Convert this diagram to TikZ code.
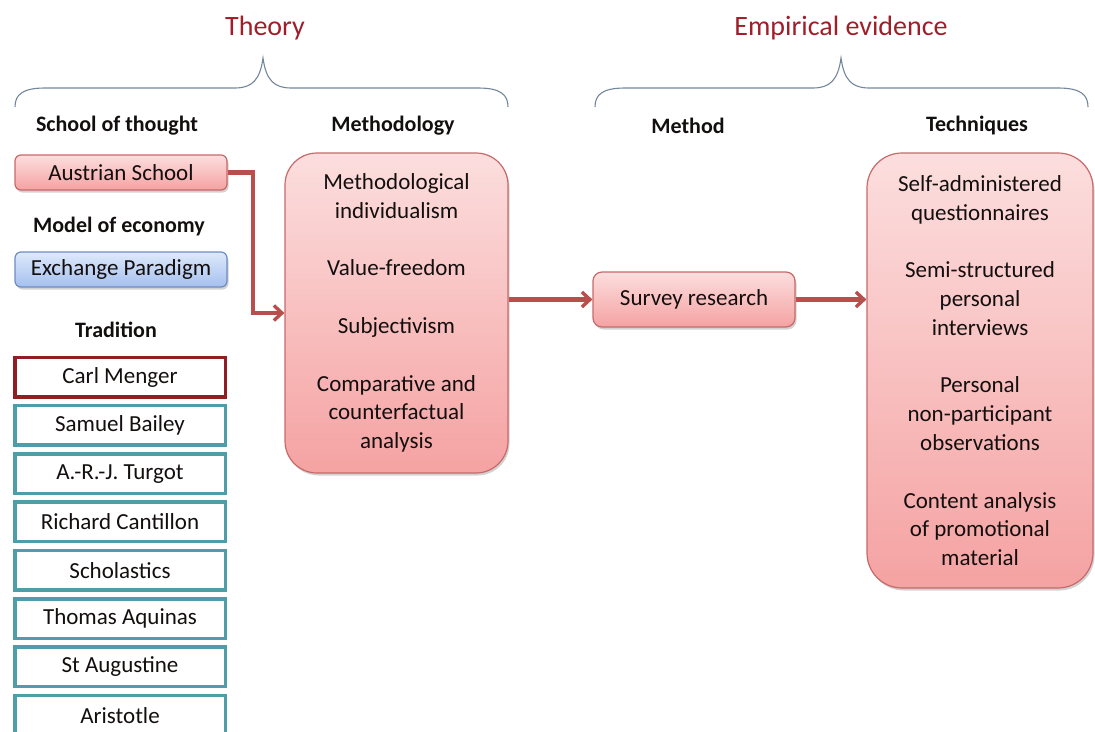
\documentclass[tikz,border=0pt]{standalone}
\usepackage{fontspec}
\setmainfont{Carlito}
\usetikzlibrary{arrows.meta,shadows}

\definecolor{titlered}{RGB}{160,30,42}
\definecolor{bracegray}{RGB}{115,135,155}
\definecolor{pinktop}{RGB}{252,222,222}
\definecolor{pinkbot}{RGB}{245,162,162}
\definecolor{pinkedge}{RGB}{200,105,105}
\definecolor{bluetop}{RGB}{222,233,251}
\definecolor{bluebot}{RGB}{165,192,238}
\definecolor{blueedge}{RGB}{110,140,192}
\definecolor{arrowred}{RGB}{185,78,76}
\definecolor{mengerred}{RGB}{145,30,36}
\definecolor{teal}{RGB}{78,158,170}
\definecolor{ink}{RGB}{20,15,15}

\newcommand{\bodyfont}{\fontsize{23}{28.8}\selectfont}
\newcommand{\headfont}{\fontsize{22}{26}\selectfont\bfseries}
\newcommand{\titlefont}{\fontsize{28}{32}\selectfont}

\begin{document}
\begin{tikzpicture}[x=1pt,y=-1pt,
  every node/.style={text=ink},
  title/.style={font=\titlefont, text=titlered},
  header/.style={font=\headfont},
  softshadow/.style={drop shadow={shadow xshift=1.5pt, shadow yshift=-2.5pt, opacity=0.25, fill=black!70}},
  pinkbox/.style={draw=pinkedge, line width=1.2pt, top color=pinktop, bottom color=pinkbot,
    softshadow, inner sep=0pt, align=center, font=\bodyfont},
  bluebox/.style={pinkbox, draw=blueedge, top color=bluetop, bottom color=bluebot},
  tradbox/.style={draw=teal, line width=3.5pt, fill=white, minimum width=210.5pt, minimum height=39.5pt,
    inner sep=0pt, font=\bodyfont},
  mengerbox/.style={tradbox, draw=mengerred},
  brace/.style={draw=bracegray, line width=1.1pt},
  conn/.style={draw=arrowred, line width=4.2pt, -{Straight Barb[length=8pt,width=15pt,line width=3.4pt]}}
]
\useasboundingbox (0,0) rectangle (1095,731);
\clip (0,0) rectangle (1095,731);

% section titles and braces
\node[title] (theory) at (265,28) {Theory};
\node[title] (empirical) at (841,28) {Empirical evidence};

\draw[brace] (15,107) .. controls (15,95) and (22,88) .. (45,88) -- (235,88)
  .. controls (252,88) and (260,80) .. (263,58)
  .. controls (266,80) and (274,88) .. (291,88) -- (478,88)
  .. controls (501,88) and (508,95) .. (508,107);
\draw[brace] (595,107) .. controls (595,95) and (602,88) .. (625,88) -- (813,88)
  .. controls (830,88) and (838,80) .. (841,58)
  .. controls (844,80) and (852,88) .. (869,88) -- (1058,88)
  .. controls (1081,88) and (1088,95) .. (1088,107);

% column headers
\node[header] (hschool) at (117,126) {School of thought};
\node[header] (hmethodology) at (393,126) {Methodology};
\node[header] (hmethod) at (688,126) {Method};
\node[header] (htech) at (977,126) {Techniques};

% school of thought and model of economy
\node[pinkbox, rounded corners=6pt, minimum width=212pt, minimum height=35pt] (aus) at (121,172.5) {Austrian School};
\node[header] (hmodel) at (119,227) {Model of economy};
\node[bluebox, rounded corners=6pt, minimum width=212pt, minimum height=35pt] (exch) at (121,269.5) {Exchange Paradigm};

% tradition
\node[header] (htrad) at (116,330) {Tradition};
\node[mengerbox] (trad0) at (120,377) {Carl Menger};
\foreach \t [count=\i] in {Samuel Bailey, A.-R.-J. Turgot, Richard Cantillon, Scholastics,
    Thomas Aquinas, St Augustine, Aristotle}
  \node[tradbox] (trad\i) at (120,{377+48.3*\i}) {\t};

% methodology
\node[pinkbox, rounded corners=32pt, minimum width=223pt, minimum height=320pt] (meth) at (396.5,313)
  {Methodological\\individualism\\[28.8pt]Value-freedom\\[28.8pt]Subjectivism\\[28.8pt]Comparative and\\counterfactual\\analysis};

% method
\node[pinkbox, rounded corners=9pt, minimum width=202pt, minimum height=55pt] (survey) at (694,299.5) {Survey research};

% techniques
\node[pinkbox, rounded corners=35pt, minimum width=226pt, minimum height=435pt] (tech) at (980,370.5)
  {Self-administered\\questionnaires\\[28.8pt]Semi-structured\\personal\\interviews\\[28.8pt]Personal\\non-participant\\observations\\[28.8pt]Content analysis\\of promotional\\material};

% connectors
\coordinate (elbow) at (253,313);
\draw[conn] (aus.east) -| (elbow) -- (elbow -| meth.west);
\draw[conn] (survey.west -| meth.east) -- (survey.west);
\draw[conn] (survey.east) -- (survey.east -| tech.west);
\end{tikzpicture}
\end{document}
